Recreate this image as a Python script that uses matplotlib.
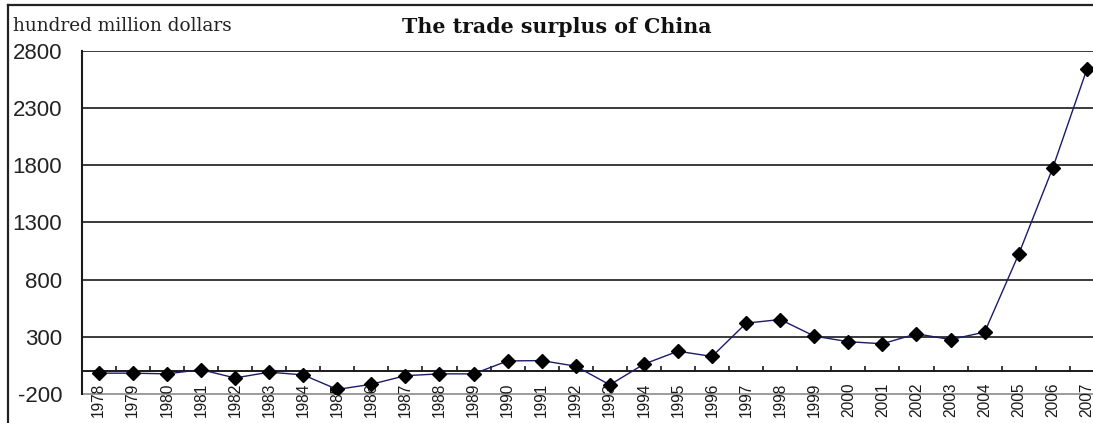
import matplotlib
matplotlib.use("Agg")
import matplotlib.pyplot as plt
from matplotlib.lines import Line2D

# Trade balance of China, in hundred million US dollars
years = [str(y) for y in range(1978, 2008)]
surplus = [-18, -18, -24, 13, -60, -9, -33, -160, -115, -40,
           -24, -24, 89, 92, 43, -120, 61, 174, 128, 419,
           451, 306, 257, 239, 326, 276, 341, 1022, 1776, 2638]
y_ticks = [-200, 300, 800, 1300, 1800, 2300, 2800]

W, H = 1093, 423
fig = plt.figure(figsize=(W / 100, H / 100), dpi=100)
fig.patch.set_facecolor("white")

left_px, top_px, bottom_px = 81.7, 50.7, 394.0
ax = fig.add_axes([left_px / W, 1 - bottom_px / H,
                   (W - left_px) / W, (bottom_px - top_px) / H])

x = list(range(len(years)))
ax.set_xlim(-0.5, 29.18)
ax.set_ylim(y_ticks[0], y_ticks[-1])

# horizontal gridlines
for v in y_ticks[1:]:
    ax.axhline(v, color="#3a3a3a", lw=1.4, zorder=1)
ax.axhline(y_ticks[0], color="#8a8a8a", lw=1.2, zorder=1, clip_on=False)

# series
ax.plot(x, surplus, color="#1b1b6a", lw=1.0, zorder=3,
        marker="D", markersize=7.2, markerfacecolor="black",
        markeredgecolor="black")

# axes styling
for s in ("top", "right"):
    ax.spines[s].set_visible(False)
ax.spines["left"].set_color("#1a1a1a")
ax.spines["left"].set_linewidth(1.5)
ax.spines["bottom"].set_position(("data", 0))
ax.spines["bottom"].set_color("#1a1a1a")
ax.spines["bottom"].set_linewidth(1.4)

ax.set_yticks(y_ticks)
ax.set_yticklabels([str(v) for v in y_ticks], family="Liberation Sans",
                   fontsize=16, color="#222222")
ax.tick_params(axis="y", length=0, pad=14)

ax.set_xticks(x)
ax.set_xticklabels(years, rotation=90, family="Liberation Sans",
                   fontsize=11.2, color="#1a1a1a")
ax.set_xticks([i + 0.5 for i in x[:-1]], minor=True)
ax.tick_params(axis="x", which="major", length=0, pad=8.5)
ax.tick_params(axis="x", which="minor", direction="in", length=3.5,
               width=1.2, color="#1a1a1a")
for lbl in ax.get_xticklabels():
    lbl.set_verticalalignment("top")

# texts
fig.text(12.5 / W, 1 - 26 / H, "hundred million dollars",
         family="DejaVu Serif", fontsize=13.3, color="#222222",
         ha="left", va="center")
fig.text(557 / W, 1 - 27 / H, "The trade surplus of China",
         family="DejaVu Serif", fontweight="bold", fontsize=14.8,
         color="#111111", ha="center", va="center")

# outer frame
fl, ft = 8.3 / W, 1 - 5 / H
fig.add_artist(Line2D([fl, fl], [0, ft], transform=fig.transFigure,
                      color="#222222", lw=1.6))
fig.add_artist(Line2D([fl, 1], [ft, ft], transform=fig.transFigure,
                      color="#222222", lw=1.6))

fig.savefig("out.png", dpi=100, facecolor="white")
